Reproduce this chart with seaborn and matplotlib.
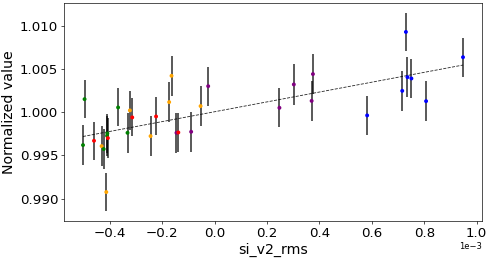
import numpy as np
import pandas as pd
import matplotlib
matplotlib.use("Agg")
import matplotlib.pyplot as plt
import seaborn as sns

# x values in units of 1e-3
x_e3 = [-0.503, -0.497, -0.461, -0.432, -0.424, -0.411, -0.410, -0.408, -0.414,
        -0.369, -0.333, -0.324, -0.315, -0.245, -0.224, -0.174, -0.165, -0.146,
        -0.139, -0.090, -0.054, -0.025,
        0.247, 0.302, 0.375, 0.370,
        0.582, 0.716, 0.730, 0.736, 0.751, 0.807, 0.948]
y_vals = [0.99619, 1.0015, 0.99669, 0.99607, 0.99573, 0.99726, 0.99754, 0.9970, 0.99076,
          1.00054, 0.99761, 1.0002, 0.99939, 0.99723, 0.9995, 1.00116, 1.0042, 0.99761,
          0.99765, 0.99773, 1.0007, 1.0030,
          1.0005, 1.0032, 1.0044, 1.0013,
          0.99962, 1.00246, 1.00927, 1.00404, 1.00389, 1.00127, 1.00635]
y_err = [0.00227, 0.00221, 0.00221, 0.0023, 0.0023, 0.0023, 0.0023, 0.0023, 0.0022,
         0.0022, 0.0023, 0.0023, 0.0022, 0.0023, 0.0022, 0.0023, 0.00229, 0.0023,
         0.0023, 0.0023, 0.00227, 0.00227,
         0.00227, 0.00235, 0.0023, 0.0023,
         0.0023, 0.00229, 0.0022, 0.0023, 0.00221, 0.00229, 0.00225]
groups = ["green", "green", "red", "orange", "green", "green", "green", "red", "orange",
          "green", "green", "orange", "red", "orange", "red", "orange", "orange", "purple",
          "red", "purple", "orange", "purple",
          "purple", "purple", "purple", "purple",
          "blue", "blue", "blue", "blue", "blue", "blue", "blue"]
palette = {"green": "green", "red": "red", "orange": "orange",
           "purple": "purple", "blue": "blue"}

df = pd.DataFrame({"si_v2_rms": np.array(x_e3) * 1e-3,
                   "value": y_vals, "err": y_err, "group": groups})

DPI = 60
fig, ax = plt.subplots(figsize=(491 / DPI, 260 / DPI), dpi=DPI)
fig.subplots_adjust(left=64 / 491, right=482 / 491, top=1 - 3 / 260, bottom=1 - 221 / 260)

ax.errorbar(df["si_v2_rms"], df["value"], yerr=df["err"], fmt="none",
            ecolor="black", elinewidth=1.8, alpha=0.85, zorder=2)
sns.regplot(data=df, x="si_v2_rms", y="value", scatter=False, ci=None, ax=ax,
            line_kws={"color": "black", "ls": "--", "lw": 1.0, "alpha": 0.85, "zorder": 3})
sns.scatterplot(data=df, x="si_v2_rms", y="value", hue="group", palette=palette,
                s=22, linewidth=0, marker="o", ax=ax, legend=False, zorder=4)

ax.set_xlabel("si_v2_rms", fontsize=17)
ax.set_ylabel("Normalized value", fontsize=17)
ax.tick_params(labelsize=16)
ax.ticklabel_format(axis="x", style="sci", scilimits=(0, 0))
ax.xaxis.get_offset_text().set_fontsize(10)
ax.margins(x=0.05, y=0.05)

fig.savefig("out.png", dpi=DPI)
